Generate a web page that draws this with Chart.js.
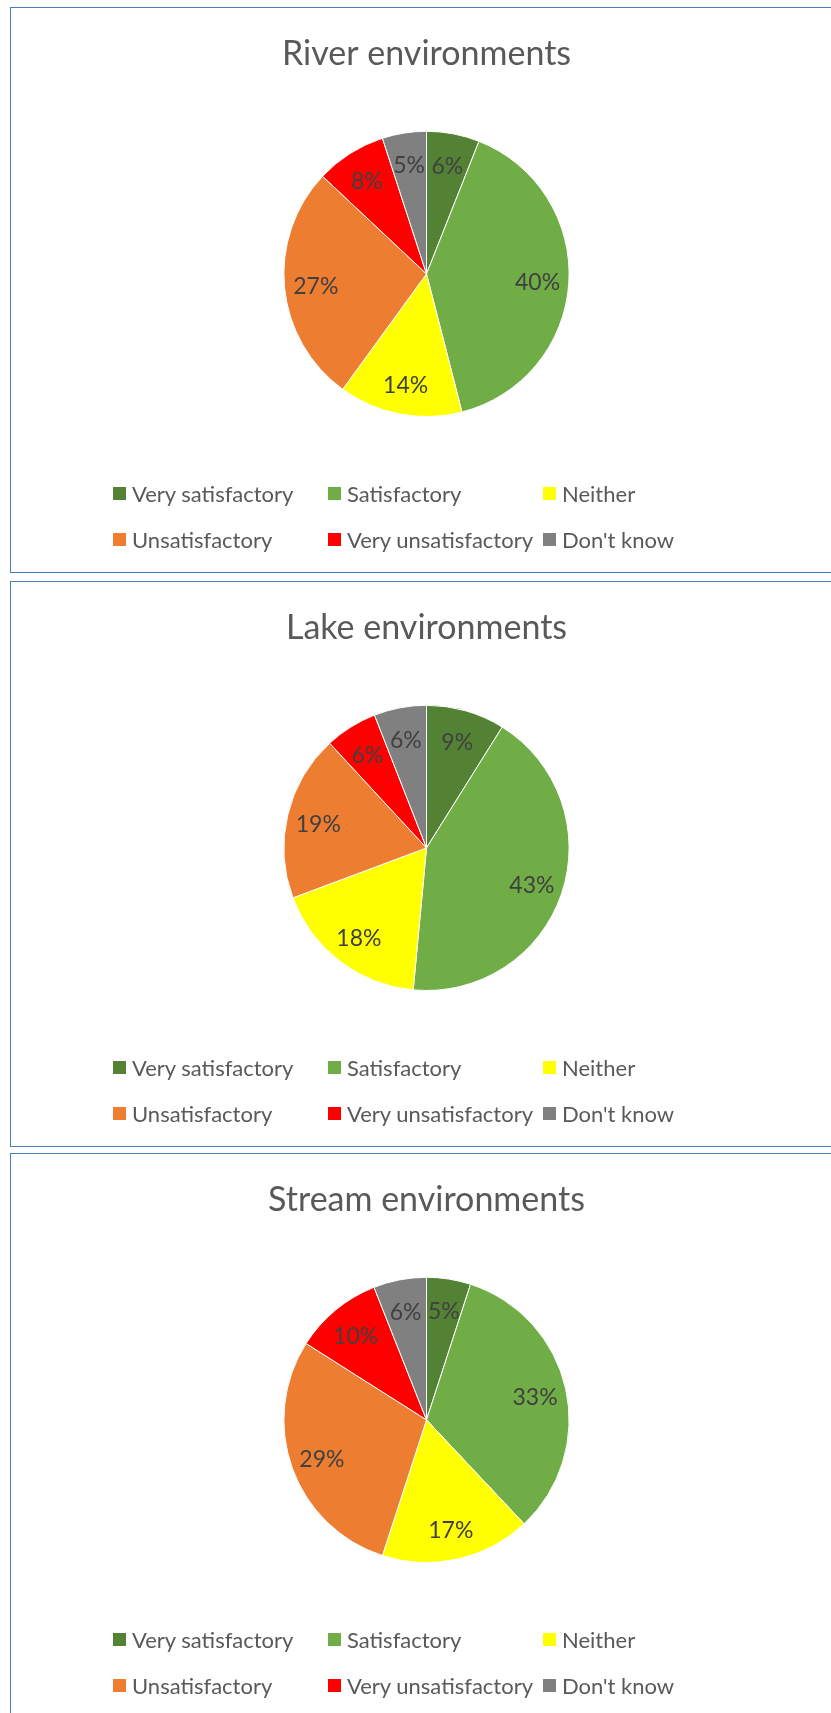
<!DOCTYPE html>
<html>
<head>
<meta charset="utf-8">
<script src="https://cdn.jsdelivr.net/npm/chart.js@4.4.1/dist/chart.umd.min.js"></script>
<style>
    body { margin: 0; background: #fff; overflow: hidden; width: 831px; height: 1713px; position: relative; }
    .panel { position: absolute; left: 10px; width: 840px; height: 564px; border: 1px solid #4a7ebb; background: #fff; }
    .panel canvas { position: absolute; left: 0; top: 0; }
    .legend { position: absolute; left: 102px; top: 463px; display: grid; grid-template-columns: 215px 215px 215px; grid-auto-rows: 45.5px; font-family: Lato, sans-serif; font-size: 22px; color: #595959; }
    .legend-item { display: flex; align-items: center; white-space: nowrap; }
    .legend-item .box { width: 13px; height: 13px; margin-right: 6px; flex: none; }
</style>
</head>
<body>
<div class="panel" style="top:7px"><canvas id="rioChart" width="820" height="564"></canvas><div class="legend" id="rioLegend"></div></div>
<div class="panel" style="top:581px"><canvas id="lagoChart" width="820" height="564"></canvas><div class="legend" id="lagoLegend"></div></div>
<div class="panel" style="top:1153px"><canvas id="arroyoChart" width="820" height="564"></canvas><div class="legend" id="arroyoLegend"></div></div>
<script>
// === DATOS ===
const categorias = ["Very satisfactory", "Satisfactory", "Neither", "Unsatisfactory", "Very unsatisfactory", "Don't know"];
const colores = ["#548235", "#70ad47", "#ffff00", "#ed7d31", "#ff0000", "#808080"];
const valoresRio = [6, 40, 14, 27, 8, 5];
const valoresLago = [9, 43, 18, 19, 6, 6];
const valoresArroyo = [5, 33, 17, 29, 10, 6];

// === ETIQUETAS DE PORCENTAJE ===
const etiquetasPorcentaje = {
    id: "etiquetasPorcentaje",
    afterDatasetsDraw(chart) {
        const ctx = chart.ctx;
        const datos = chart.data.datasets[0].data;
        const total = datos.reduce((a, v) => a + v, 0);
        ctx.save();
        ctx.font = "23px Lato";
        ctx.fillStyle = "#404040";
        ctx.textAlign = "center";
        ctx.textBaseline = "middle";
        chart.getDatasetMeta(0).data.forEach((arco, i) => {
            const p = arco.getProps(["x", "y", "startAngle", "endAngle", "outerRadius"], true);
            const medio = (p.startAngle + p.endAngle) / 2;
            const r = p.outerRadius * 0.78;
            ctx.fillText(Math.round(datos[i] / total * 100) + "%", p.x + Math.cos(medio) * r, p.y + Math.sin(medio) * r + 2);
        });
        ctx.restore();
    }
};

// === LEYENDA ===
function crearLeyenda(id) {
    document.getElementById(id).innerHTML = categorias
        .map((c, i) => `<div class="legend-item"><span class="box" style="background:${colores[i]}"></span>${c}</div>`)
        .join("");
}

// === GRÁFICOS ===
function crearGrafico(id, titulo, valores) {
    const ctx = document.getElementById(id).getContext("2d");
    return new Chart(ctx, {
        type: "pie",
        data: {
            labels: categorias,
            datasets: [{
                data: valores,
                backgroundColor: colores,
                borderColor: "#ffffff",
                borderWidth: 1
            }]
        },
        options: {
            responsive: false,
            animation: false,
            layout: { padding: { left: 11, right: 0, top: 0, bottom: 155 } },
            plugins: {
                legend: { display: false },
                tooltip: { enabled: false },
                title: {
                    display: true,
                    text: titulo,
                    color: "#595959",
                    font: { family: "Lato", size: 34, weight: "normal" },
                    padding: { top: 26, bottom: 56 }
                }
            }
        },
        plugins: [etiquetasPorcentaje]
    });
}

crearGrafico("rioChart", "River environments", valoresRio);
crearGrafico("lagoChart", "Lake environments", valoresLago);
crearGrafico("arroyoChart", "Stream environments", valoresArroyo);
crearLeyenda("rioLegend");
crearLeyenda("lagoLegend");
crearLeyenda("arroyoLegend");
</script>
</body>
</html>
